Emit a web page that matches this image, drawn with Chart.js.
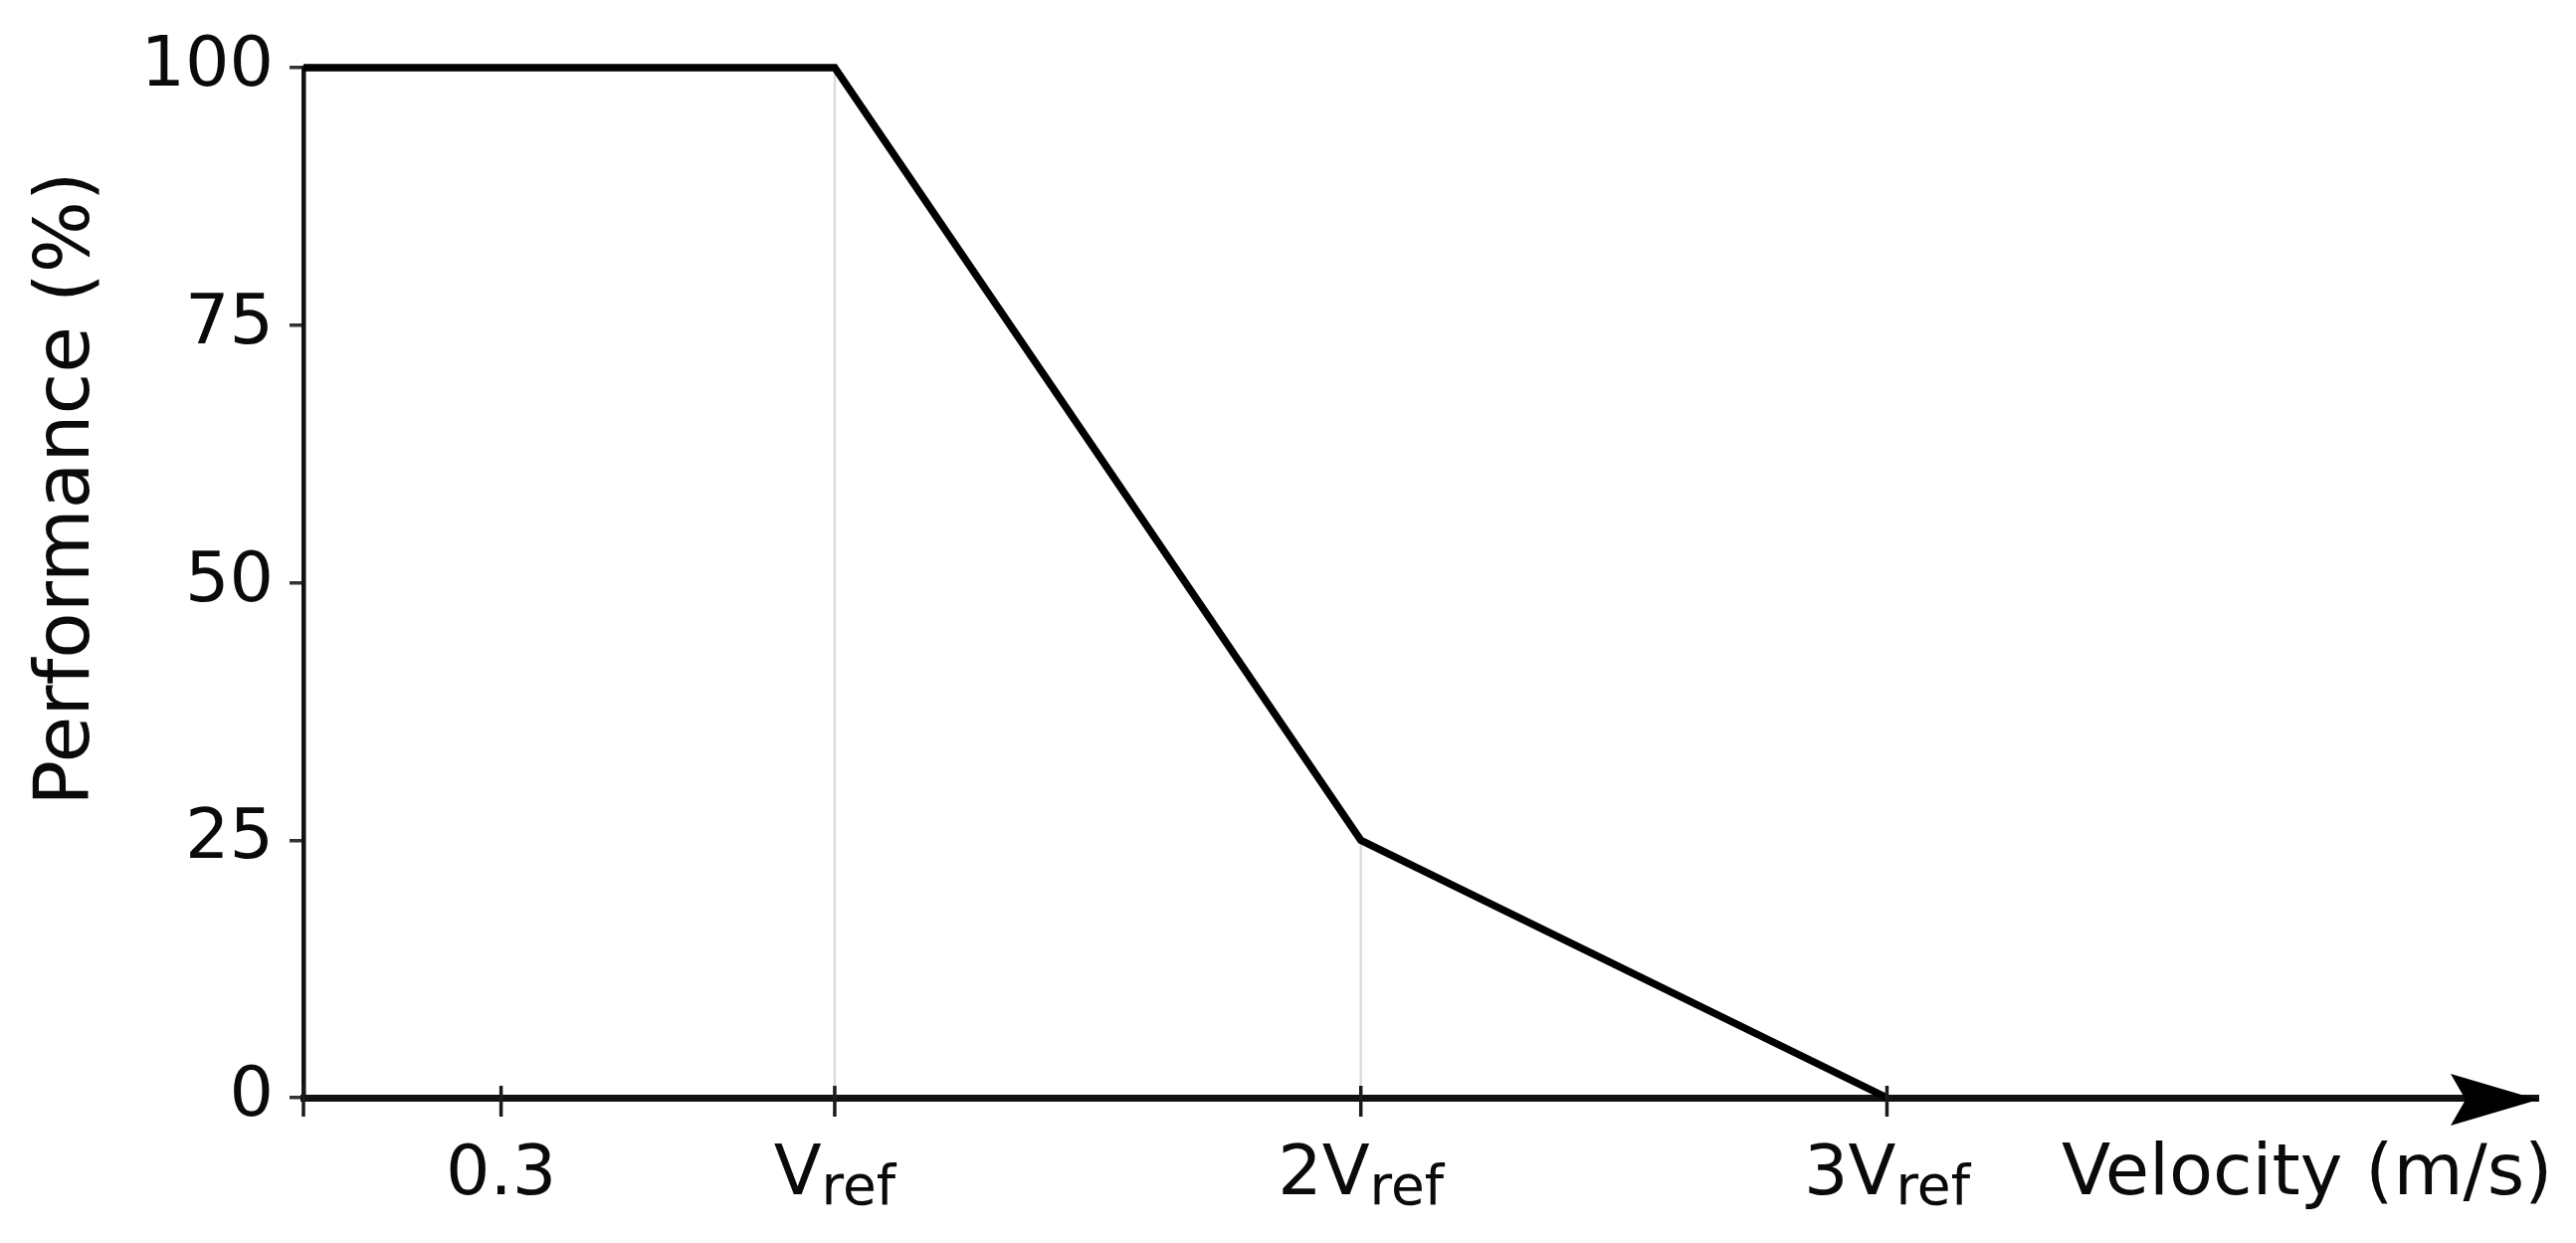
<!DOCTYPE html>
<html><head><meta charset="utf-8">
<script src="https://cdn.jsdelivr.net/npm/chart.js@4.4.1/dist/chart.umd.min.js"></script>
<style>html,body{margin:0;padding:0;background:#fff;overflow:hidden}#wrap{width:2589px;height:1249px}</style>
</head><body><div id="wrap"><canvas id="c" width="2589" height="1249"></canvas></div>
<script>
// ---- data ----
const VREF = 0.82;
const X_MIN = -0.008;                    // axis origin (y-axis position)
const X_MAX = 3.475;
const performanceX = [X_MIN, VREF, 2 * VREF, 3 * VREF];
const performanceY = [100, 100, 25, 0];
const dropVrefX = [VREF, VREF];
const dropVrefY = [0, 100];
const drop2VrefX = [2 * VREF, 2 * VREF];
const drop2VrefY = [0, 25];
const xTickValues = [X_MIN, 0.3, VREF, 2 * VREF, 3 * VREF];
const xTickMain = ['', '0.3', 'V', '2V', '3V'];
const xTickSub = ['', '', 'ref', 'ref', 'ref'];
const yTickValues = [0, 25, 50, 75, 100];
const xAxisTitle = 'Velocity (m/s)';
const yAxisTitle = 'Performance (%)';

const FONT = '"DejaVu Sans", "Liberation Sans", sans-serif';
const toPts = (xs, ys) => xs.map((x, i) => ({x: x, y: ys[i]}));

const decor = {
  id: 'decor',
  afterDraw(chart) {
    const ctx = chart.ctx;
    const xs = chart.scales.x, ys = chart.scales.y;
    const y0 = ys.getPixelForValue(0);
    ctx.save();
    // x tick marks crossing the axis
    ctx.strokeStyle = '#1a1a1a';
    ctx.lineWidth = 3.5;
    xTickValues.forEach(v => {
      const px = xs.getPixelForValue(v);
      ctx.beginPath();
      ctx.moveTo(px, y0 - 12);
      ctx.lineTo(px, y0 + 19);
      ctx.stroke();
    });
    // x tick labels with subscripts
    ctx.fillStyle = '#0a0a0a';
    ctx.textBaseline = 'alphabetic';
    ctx.textAlign = 'left';
    const base = 1200;
    xTickValues.forEach((v, i) => {
      if (!xTickMain[i]) return;
      const px = xs.getPixelForValue(v);
      ctx.font = '70px ' + FONT;
      const w1 = ctx.measureText(xTickMain[i]).width;
      ctx.font = '55px ' + FONT;
      const w2 = xTickSub[i] ? ctx.measureText(xTickSub[i]).width : 0;
      const start = px - (w1 + w2) / 2;
      ctx.font = '70px ' + FONT;
      ctx.fillText(xTickMain[i], start, base);
      if (xTickSub[i]) {
        ctx.font = '55px ' + FONT;
        ctx.fillText(xTickSub[i], start + w1, base + 10);
      }
    });
    // x axis title
    ctx.font = '72px ' + FONT;
    ctx.fillText(xAxisTitle, 2072, base);
    // arrow head
    const r = chart.chartArea.right;
    const ay = y0 + 2;
    ctx.fillStyle = '#000';
    ctx.beginPath();
    ctx.moveTo(r, ay);
    ctx.lineTo(r - 88, ay - 26);
    ctx.lineTo(r - 73, ay);
    ctx.lineTo(r - 88, ay + 26);
    ctx.closePath();
    ctx.fill();
    // y axis title
    ctx.translate(69, 491);
    ctx.rotate(-Math.PI / 2);
    ctx.textAlign = 'center';
    ctx.textBaseline = 'middle';
    ctx.fillStyle = '#0a0a0a';
    ctx.font = '76px ' + FONT;
    ctx.fillText(yAxisTitle, 0, 0);
    ctx.restore();
  }
};

new Chart(document.getElementById('c'), {
  type: 'line',
  data: {
    datasets: [
      {data: toPts(performanceX, performanceY), borderColor: '#000', borderWidth: 7.5,
       pointRadius: 0, borderJoinStyle: 'miter', clip: false, order: 0, tension: 0},
      {data: toPts(dropVrefX, dropVrefY), borderColor: '#dcdcdc', borderWidth: 2.5,
       pointRadius: 0, order: 1},
      {data: toPts(drop2VrefX, drop2VrefY), borderColor: '#dcdcdc', borderWidth: 2.5,
       pointRadius: 0, order: 1}
    ]
  },
  options: {
    responsive: false,
    animation: false,
    devicePixelRatio: 1,
    layout: {padding: {left: 0, top: 68, right: 38, bottom: 0}},
    plugins: {legend: {display: false}, tooltip: {enabled: false}},
    scales: {
      x: {
        type: 'linear', min: X_MIN, max: X_MAX,
        grid: {display: false},
        border: {display: true, color: '#111', width: 7},
        ticks: {display: false},
        afterFit: s => { s.height = 146; }
      },
      y: {
        type: 'linear', min: 0, max: 100,
        afterBuildTicks: s => { s.ticks = yTickValues.map(v => ({value: v})); },
        grid: {display: true, drawOnChartArea: false, drawTicks: true, tickLength: 14,
               color: '#333', lineWidth: 3.5},
        border: {display: true, color: '#111', width: 4.5},
        ticks: {font: {family: FONT, size: 70}, color: '#0a0a0a', padding: 16},
        afterFit: s => { s.width = 305; }
      }
    }
  },
  plugins: [decor]
});
</script></body></html>
